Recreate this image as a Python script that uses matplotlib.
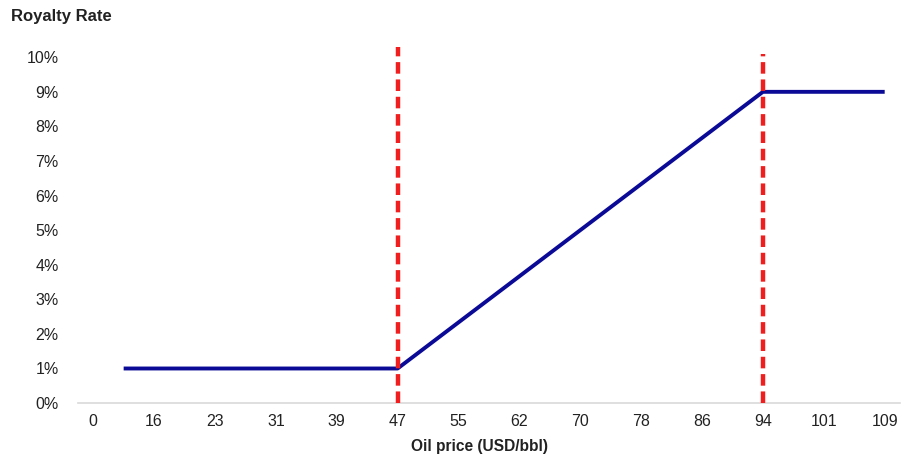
import matplotlib.pyplot as plt

plt.rcParams['font.family'] = ['Liberation Sans', 'DejaVu Sans']

# x axis is category-like: evenly spaced positions with price labels
price_labels = ['0', '16', '23', '31', '39', '47', '55', '62', '70', '78', '86', '94', '101', '109']
yticks = [0, 1, 2, 3, 4, 5, 6, 7, 8, 9, 10]

# royalty rate line (x in category positions, y in %)
rate_x = [0.5, 5, 11, 13]
rate_y = [1, 1, 9, 9]

# red threshold markers (position, top in %)
thresh_x = [5, 11]
thresh_top = [10.3, 10.1]

fig = plt.figure(figsize=(9.09, 4.57), dpi=100)
ax = fig.add_axes([0.0858, 0.118, 0.9042, 0.787])

ax.plot(rate_x, rate_y, color='#0a0a96', lw=2.8, solid_capstyle='butt', zorder=3)
for xv, top in zip(thresh_x, thresh_top):
    ax.plot([xv, xv], [0, top], color='#f01e1e', lw=3.2, dashes=(2.6, 1.3), zorder=4)

ax.set_xlim(-0.25, 13.25)
ax.set_ylim(0, 10.4)
ax.set_xticks(range(len(price_labels)))
ax.set_xticklabels(price_labels)
ax.set_yticks(yticks)
ax.set_yticklabels([f'{v}%' for v in yticks])
ax.tick_params(length=0, labelsize=11.5, colors='#222222')
ax.tick_params(axis='x', pad=8)
ax.tick_params(axis='y', pad=14)

for s in ['top', 'right', 'left']:
    ax.spines[s].set_visible(False)
ax.spines['bottom'].set_color('#d9d9d9')
ax.spines['bottom'].set_linewidth(1.2)

fig.text(0.012, 0.963, 'Royalty Rate', fontsize=12, fontweight='bold', color='#222222', va='center')
fig.text(0.528, 0.022, 'Oil price (USD/bbl)', fontsize=11.2, fontweight='bold', color='#222222',
         ha='center', va='center')

fig.savefig('out.png', dpi=100)
